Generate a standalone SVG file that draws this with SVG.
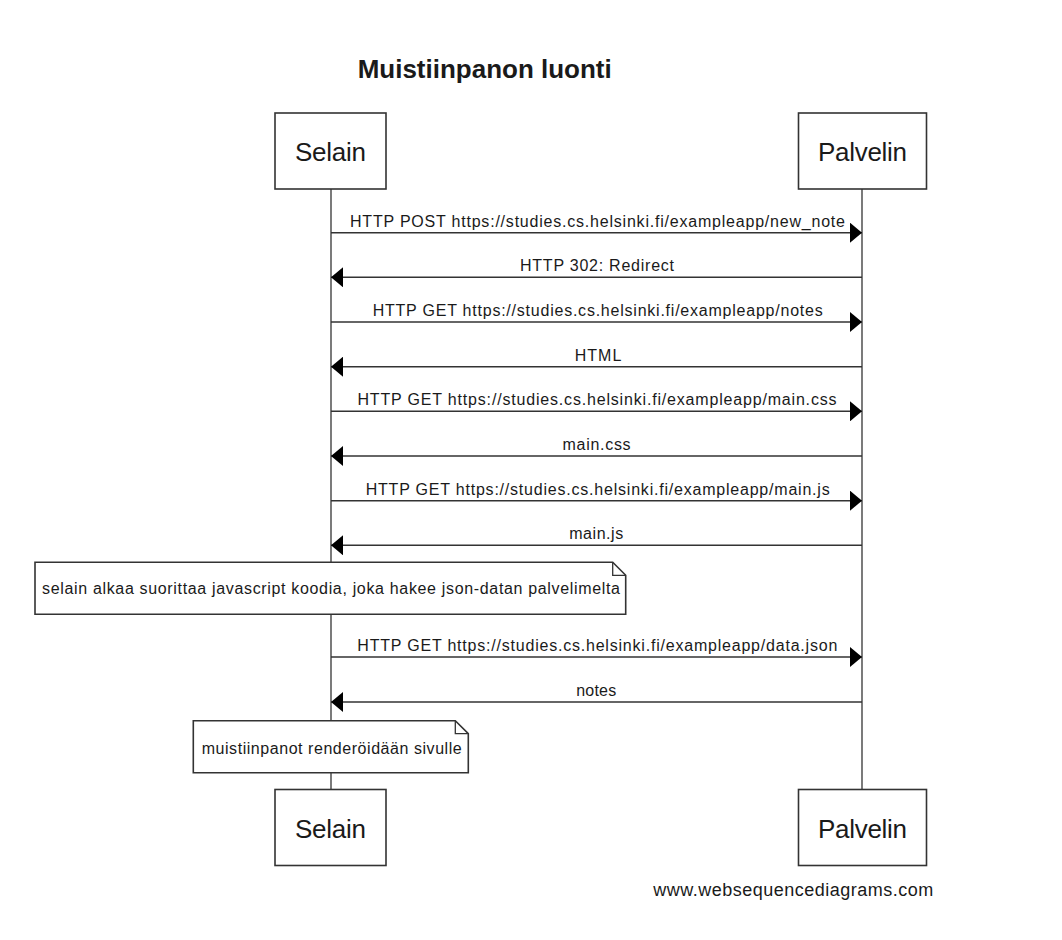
<svg xmlns="http://www.w3.org/2000/svg" width="1062" height="940" viewBox="0 0 1062 940">
<style>
text{font-family:"Liberation Sans",Arial,sans-serif;fill:#1a1a1a}
.title{font-size:25px;font-weight:bold;text-anchor:middle}
.part{font-size:26px;text-anchor:middle}
.lbl{font-size:16px;text-anchor:middle}
.note-t{font-size:16px}
.box{fill:#fff;stroke:#333;stroke-width:1.6}
.life{stroke:#222;stroke-width:1.2}
.msg{stroke:#333;stroke-width:1.5;fill:none}
.foot{font-size:18px}
</style>
<defs>
<marker id="ah" viewBox="0 0 12 20" refX="12" refY="10" markerWidth="12" markerHeight="20" orient="auto" markerUnits="userSpaceOnUse">
<path d="M0,0 L12,10 L0,20 z" fill="#000"/>
</marker>
</defs>
<rect width="1062" height="940" fill="#fff"/>
<text class="title" x="484.7" y="78" textLength="254" lengthAdjust="spacingAndGlyphs">Muistiinpanon luonti</text>

<g id="lifelines">
<line class="life" x1="331" y1="189" x2="331" y2="790"/>
<line class="life" x1="862" y1="189" x2="862" y2="790"/>
</g>

<g id="selain-top">
<rect class="box" x="275" y="113" width="111" height="76"/>
<text class="part" x="330.5" y="161" textLength="71">Selain</text>
</g>
<g id="palvelin-top">
<rect class="box" x="798.5" y="113" width="128" height="76"/>
<text class="part" x="862.5" y="161" textLength="89">Palvelin</text>
</g>

<g id="connectors">
<line class="msg" x1="331" y1="232.7" x2="862" y2="232.7" marker-end="url(#ah)"/>
<text class="lbl" x="597.5" y="226.7" textLength="495">HTTP POST https://studies.cs.helsinki.fi/exampleapp/new_note</text>
<line class="msg" x1="862" y1="277.3" x2="331" y2="277.3" marker-end="url(#ah)"/>
<text class="lbl" x="597" y="271.3" textLength="154">HTTP 302: Redirect</text>
<line class="msg" x1="331" y1="322" x2="862" y2="322" marker-end="url(#ah)"/>
<text class="lbl" x="597.7" y="316" textLength="450">HTTP GET https://studies.cs.helsinki.fi/exampleapp/notes</text>
<line class="msg" x1="862" y1="366.7" x2="331" y2="366.7" marker-end="url(#ah)"/>
<text class="lbl" x="598" y="360.7" textLength="46.7">HTML</text>
<line class="msg" x1="331" y1="411.3" x2="862" y2="411.3" marker-end="url(#ah)"/>
<text class="lbl" x="597" y="405.3" textLength="479">HTTP GET https://studies.cs.helsinki.fi/exampleapp/main.css</text>
<line class="msg" x1="862" y1="456" x2="331" y2="456" marker-end="url(#ah)"/>
<text class="lbl" x="596.6" y="450" textLength="68">main.css</text>
<line class="msg" x1="331" y1="500.7" x2="862" y2="500.7" marker-end="url(#ah)"/>
<text class="lbl" x="597.7" y="494.7" textLength="464">HTTP GET https://studies.cs.helsinki.fi/exampleapp/main.js</text>
<line class="msg" x1="862" y1="545.3" x2="331" y2="545.3" marker-end="url(#ah)"/>
<text class="lbl" x="596.2" y="539.3" textLength="54">main.js</text>
<line class="msg" x1="331" y1="657" x2="862" y2="657" marker-end="url(#ah)"/>
<text class="lbl" x="597.3" y="651" textLength="480">HTTP GET https://studies.cs.helsinki.fi/exampleapp/data.json</text>
<line class="msg" x1="862" y1="702" x2="331" y2="702" marker-end="url(#ah)"/>
<text class="lbl" x="596.2" y="696" textLength="40">notes</text>
</g>

<g id="note-1">
<path class="box" d="M35,562.3 H612.7 L625.7,575.3 V614.3 H35 Z"/>
<path d="M612.7,562.3 V575.3 H625.7" fill="none" stroke="#333" stroke-width="1.3"/>
<text class="note-t" x="42" y="594.3" textLength="578">selain alkaa suorittaa javascript koodia, joka hakee json-datan palvelimelta</text>
</g>

<g id="note-2">
<path class="box" d="M193.3,720.7 H455.3 L468.3,733.7 V772.7 H193.3 Z"/>
<path d="M455.3,720.7 V733.7 H468.3" fill="none" stroke="#333" stroke-width="1.3"/>
<text class="note-t" x="201.7" y="754" textLength="260">muistiinpanot renderöidään sivulle</text>
</g>

<g id="selain-bottom">
<rect class="box" x="275" y="789.5" width="111" height="76"/>
<text class="part" x="330.5" y="837.5" textLength="71">Selain</text>
</g>
<g id="palvelin-bottom">
<rect class="box" x="798.5" y="789.5" width="128" height="76"/>
<text class="part" x="862.5" y="837.5" textLength="89">Palvelin</text>
</g>

<text class="foot" x="653.3" y="896" textLength="280">www.websequencediagrams.com</text>
</svg>
